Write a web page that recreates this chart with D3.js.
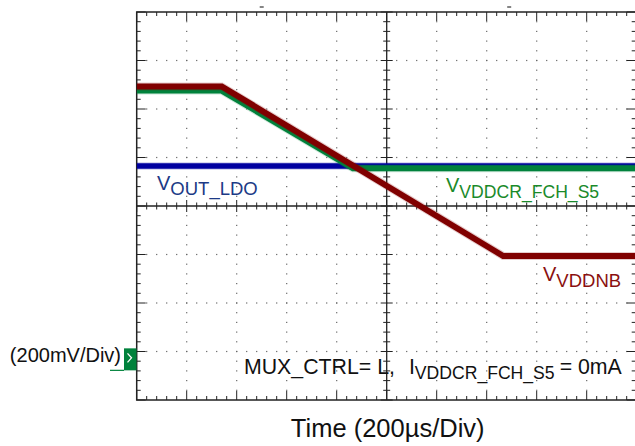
<!DOCTYPE html>
<html>
<head>
<meta charset="utf-8">
<script src="https://cdn.jsdelivr.net/npm/d3@7"></script>
<style>
  html, body { margin: 0; padding: 0; background: #fff; }
  svg { display: block; font-family: "Liberation Sans", Arial, sans-serif; }
</style>
</head>
<body>
<svg id="chart" width="635" height="446"></svg>
<script>
// scope settings
const timePerDiv = 200;      // µs
const voltsPerDiv = 0.2;     // V
const timeRange = [0, 2000];
const voltRange = [-0.18, 1.42];

// traces (time in µs, level in V)
const vddnbTime = [0, 340, 1466, 2000];
const vddnbVolts = [1.113, 1.113, 0.414, 0.414];

const fchS5Time = [0, 340, 865, 2000];
const fchS5Volts = [1.096, 1.096, 0.776, 0.776];

const ldoTime = [0, 2000];
const ldoVolts = [0.785, 0.785];

const triggerMarks = [500, 1490];

const colors = {
  vddnb: "#800000",
  fchS5: "#00823c",
  ldo: "#0000a0",
  ldoText: "#1c3a86",
  fchText: "#1a8a2a",
  vddnbText: "#8a1010"
};

const svg = d3.select("#chart");
const x = d3.scaleLinear().domain(timeRange).range([136.7, 636.7]);
const y = d3.scaleLinear().domain(voltRange).range([400, 12]);

const ink = "#222";

// dotted graticule
const grid = svg.append("g");
const minorT = d3.range(timeRange[0], timeRange[1] + 1, timePerDiv / 5);
const minorV = d3.range(0, 41).map(k => voltRange[0] + k * voltsPerDiv / 5);
const divT = d3.range(1, 10).filter(k => k !== 5).map(k => k * timePerDiv);
const divV = d3.range(1, 8).filter(k => k !== 4).map(k => voltRange[0] + k * voltsPerDiv);

divT.forEach(t => {
  grid.selectAll(null).data(minorV.slice(1, -1)).enter().append("rect")
    .attr("x", x(t) - 0.6).attr("y", v => y(v) - 0.6)
    .attr("width", 1.2).attr("height", 1.2).attr("fill", "#666");
});
divV.forEach(v => {
  grid.selectAll(null).data(minorT.slice(1, -1)).enter().append("rect")
    .attr("x", t => x(t) - 0.6).attr("y", y(v) - 0.6)
    .attr("width", 1.2).attr("height", 1.2).attr("fill", "#666");
});

// centre axes with ticks
const centreT = (timeRange[0] + timeRange[1]) / 2;
const centreV = voltRange[0] + 4 * voltsPerDiv;
const isMajorT = t => Math.abs(t / timePerDiv - Math.round(t / timePerDiv)) < 1e-6;
const isMajorV = v => {
  const k = (v - voltRange[0]) / voltsPerDiv;
  return Math.abs(k - Math.round(k)) < 1e-6;
};

const axes = svg.append("g").attr("stroke", ink).attr("stroke-width", 1);
axes.append("line").attr("x1", x(timeRange[0])).attr("x2", x(timeRange[1]))
  .attr("y1", y(centreV)).attr("y2", y(centreV)).attr("stroke-width", 1.3);
axes.append("line").attr("x1", x(centreT)).attr("x2", x(centreT))
  .attr("y1", y(voltRange[0])).attr("y2", y(voltRange[1])).attr("stroke-width", 1.3);

axes.selectAll(".ct").data(minorT).enter().append("line")
  .attr("x1", t => x(t)).attr("x2", t => x(t))
  .attr("y1", t => y(centreV) - (isMajorT(t) ? 6 : 3.5))
  .attr("y2", t => y(centreV) + (isMajorT(t) ? 6 : 3.5));
axes.selectAll(".cv").data(minorV).enter().append("line")
  .attr("y1", v => y(v)).attr("y2", v => y(v))
  .attr("x1", v => x(centreT) - (isMajorV(v) ? 6 : 3.5))
  .attr("x2", v => x(centreT) + (isMajorV(v) ? 6 : 3.5));

// border ticks
const frame = svg.append("g").attr("stroke", ink).attr("stroke-width", 1);
frame.selectAll(".tt").data(minorT).enter().append("line")
  .attr("x1", t => x(t)).attr("x2", t => x(t))
  .attr("y1", y(voltRange[1])).attr("y2", t => y(voltRange[1]) + (isMajorT(t) ? 9 : 4));
frame.selectAll(".bt").data(minorT).enter().append("line")
  .attr("x1", t => x(t)).attr("x2", t => x(t))
  .attr("y1", y(voltRange[0])).attr("y2", t => y(voltRange[0]) - (isMajorT(t) ? 9 : 4));
frame.selectAll(".lt").data(minorV).enter().append("line")
  .attr("y1", v => y(v)).attr("y2", v => y(v))
  .attr("x1", x(timeRange[0])).attr("x2", v => x(timeRange[0]) + (isMajorV(v) ? 9 : 4));
frame.selectAll(".rt").data(minorV).enter().append("line")
  .attr("y1", v => y(v)).attr("y2", v => y(v))
  .attr("x1", x(timeRange[1])).attr("x2", v => x(timeRange[1]) - (isMajorV(v) ? 10 : 5));

frame.append("rect")
  .attr("x", x(timeRange[0])).attr("y", y(voltRange[1]))
  .attr("width", x(timeRange[1]) - x(timeRange[0]))
  .attr("height", y(voltRange[0]) - y(voltRange[1]))
  .attr("fill", "none").attr("stroke-width", 1.5);

// trigger marks above the screen
svg.selectAll(".trig").data(triggerMarks).enter().append("line")
  .attr("x1", t => x(t) - 2).attr("x2", t => x(t) + 2)
  .attr("y1", 7).attr("y2", 7).attr("stroke", "#333").attr("stroke-width", 1.2);

// traces
svg.append("clipPath").attr("id", "screen").append("rect")
  .attr("x", x(timeRange[0])).attr("y", y(voltRange[1]))
  .attr("width", x(timeRange[1]) - x(timeRange[0]))
  .attr("height", y(voltRange[0]) - y(voltRange[1]));

const line = d3.line().x(d => x(d[0])).y(d => y(d[1]));
const traces = [
  { t: ldoTime, v: ldoVolts, color: colors.ldo, width: 5.5 },
  { t: fchS5Time, v: fchS5Volts, color: colors.fchS5, width: 6 },
  { t: vddnbTime, v: vddnbVolts, color: colors.vddnb, width: 6 }
];
const traceG = svg.append("g").attr("clip-path", "url(#screen)");
traces.forEach(tr => {
  const pts = tr.t.map((t, i) => [t, tr.v[i]]);
  traceG.append("path").attr("d", line(pts)).attr("fill", "none")
    .attr("stroke", tr.color).attr("stroke-opacity", 0.2)
    .attr("stroke-width", tr.width + 2);
  traceG.append("path").attr("d", line(pts)).attr("fill", "none")
    .attr("stroke", tr.color).attr("stroke-width", tr.width);
});

// channel labels
function subLabel(px, py, main, sub, color, mainSize, subSize, drop) {
  const txt = svg.append("text").attr("x", px).attr("y", py)
    .attr("fill", color).attr("font-size", mainSize);
  txt.append("tspan").text(main);
  txt.append("tspan").attr("dy", drop).attr("font-size", subSize).text(sub);
  return txt;
}
subLabel(157, 190, "V", "OUT_LDO", colors.ldoText, 20, 18.5, 5);
subLabel(446, 191.5, "V", "VDDCR_FCH_S5", colors.fchText, 20, 17.6, 6.5);
subLabel(543, 281, "V", "VDDNB", colors.vddnbText, 20, 18.5, 5.5);

// test condition
const cond = svg.append("text").attr("x", 244).attr("y", 374)
  .attr("fill", "#111").attr("font-size", 21.3);
cond.append("tspan").text("MUX_CTRL= L,");
cond.append("tspan").attr("dx", 14).text("I");
cond.append("tspan").attr("dy", 4.5).attr("font-size", 17.6).text("VDDCR_FCH_S5");
cond.append("tspan").attr("dx", 5).attr("dy", -4.5).text("= 0mA");

// ground marker and scale
const y0 = y(0);
svg.append("line").attr("x1", 110).attr("x2", 124).attr("y1", y0 + 14).attr("y2", y0 + 14)
  .attr("stroke", colors.fchS5).attr("stroke-width", 1.2);
svg.append("rect").attr("x", 124).attr("y", y0 - 8).attr("width", 12.5).attr("height", 22)
  .attr("fill", colors.fchS5);
svg.append("path")
  .attr("d", `M127.5,${y0 - 3}L131.5,${y0 + 1.5}L127.5,${y0 + 6}`)
  .attr("fill", "none").attr("stroke", "#fff").attr("stroke-width", 1.3);

svg.append("text").attr("x", 121).attr("y", y0 + 5.5).attr("text-anchor", "end")
  .attr("font-size", 20).attr("fill", "#111").text(`(${voltsPerDiv * 1000}mV/Div)`);

svg.append("text").attr("x", x(centreT) + 1).attr("y", 437)
  .attr("text-anchor", "middle").attr("font-size", 25.5).attr("fill", "#111")
  .text(`Time (${timePerDiv}µs/Div)`);
</script>
</body>
</html>
